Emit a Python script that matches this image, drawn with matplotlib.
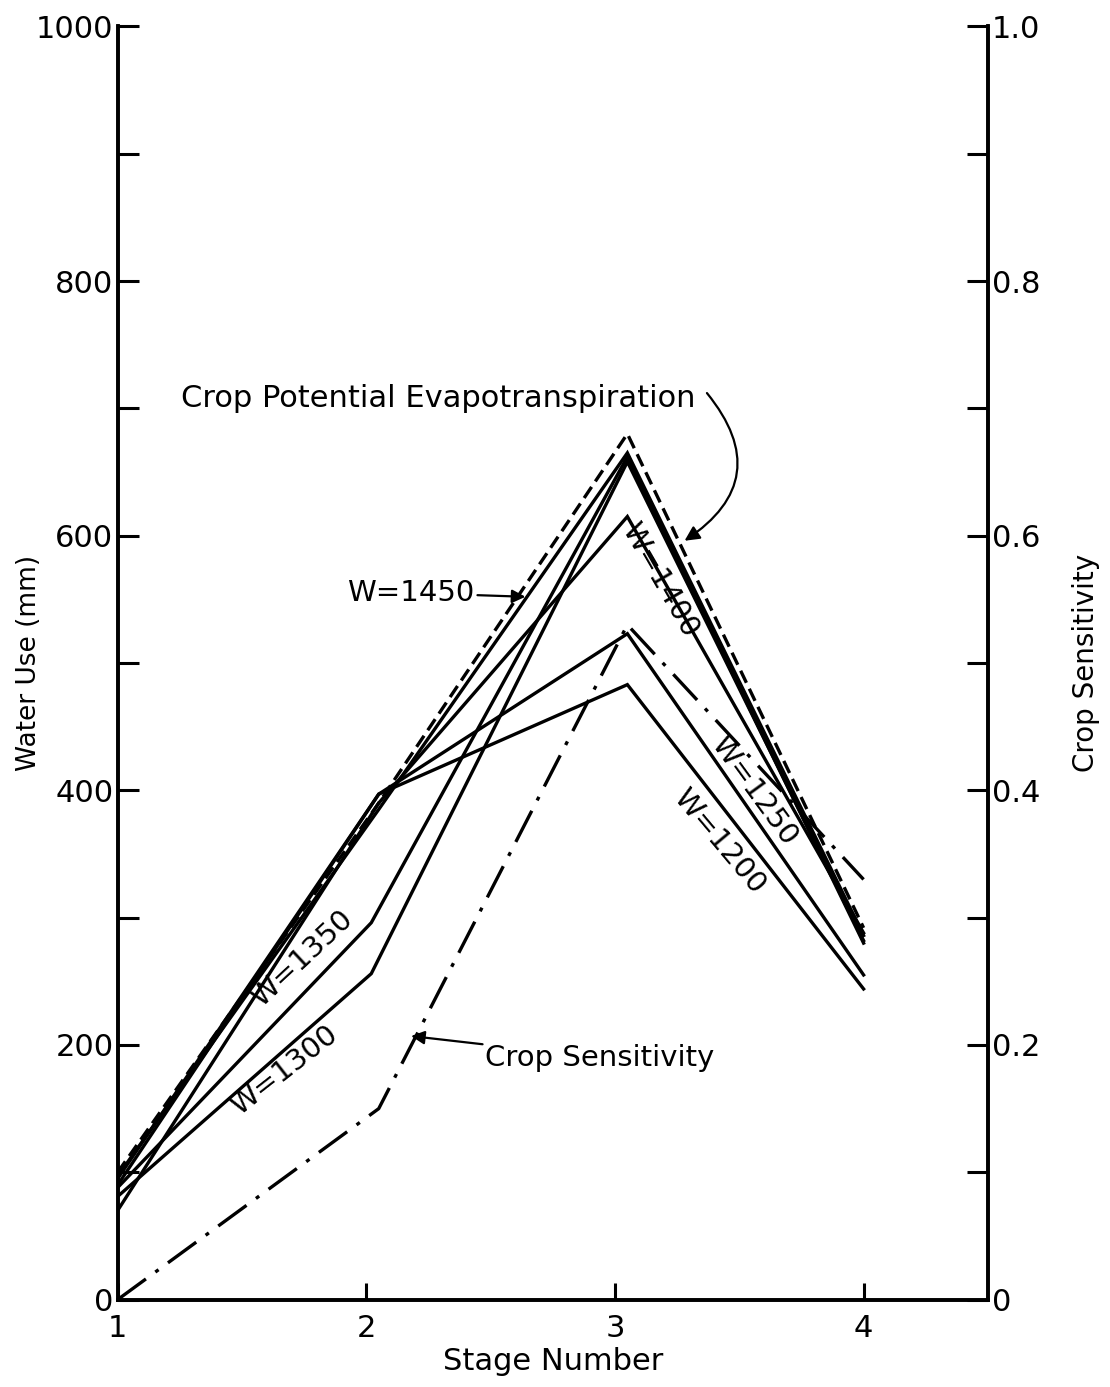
import matplotlib
matplotlib.use("Agg")
import matplotlib.pyplot as plt

# stage positions along the x axis
stages = [1.0, 2.05, 3.05, 4.0]
stages_low = [1.0, 2.02, 3.05, 4.0]

# water use (mm) per stage
et_potential = [100, 390, 680, 292]
w1450 = [97, 385, 665, 286]
w1400 = [70, 390, 615, 288]
w1350 = [88, 296, 662, 280]
w1300 = [81, 256, 658, 282]
w1250 = [95, 397, 523, 255]
w1200 = [90, 397, 483, 244]

# crop sensitivity per stage (right axis)
sensitivity = [0.0, 0.15, 0.53, 0.33]

plt.rcParams["font.family"] = ["DejaVu Sans"]

fig = plt.figure(figsize=(11.1, 13.87), dpi=100)
ax = fig.add_axes([0.106, 0.063, 0.784, 0.918])
ax2 = ax.twinx()

lw = 2.4
for series in [w1450, w1400, w1250, w1200]:
    ax.plot(stages, series, color="black", lw=lw, solid_joinstyle="miter")
for series in [w1350, w1300]:
    ax.plot(stages_low, series, color="black", lw=lw, solid_joinstyle="miter")
ax.plot(stages, et_potential, color="black", lw=lw, linestyle=(0, (4, 2)))
ax2.plot(stages, sensitivity, color="black", lw=lw, linestyle=(0, (10.5, 3.5, 1.2, 3.5)))

ax.set_xlim(1, 4.5)
ax.set_ylim(0, 1000)
ax2.set_ylim(0, 1.0)

ax.set_xticks([1, 2, 3, 4])
ax.set_yticks(range(0, 1001, 200))
ax.set_yticks(range(100, 1000, 200), minor=True)
ax2.set_yticks([0, 0.2, 0.4, 0.6, 0.8, 1.0])
ax2.set_yticklabels(["0", "0.2", "0.4", "0.6", "0.8", "1.0"])
ax2.set_yticks([0.1, 0.3, 0.5, 0.7, 0.9], minor=True)

for a in (ax, ax2):
    a.spines["top"].set_visible(False)
    for s in a.spines.values():
        s.set_linewidth(2.6)
    a.tick_params(which="both", direction="in", width=2.2, length=15, labelsize=22, pad=3)

ax.tick_params(axis="x", length=12, pad=10)
ax.set_xlabel("Stage Number", fontsize=22)
ax.set_ylabel("Water Use (mm)", fontsize=19)
ax2.set_ylabel("Crop Sensitivity", fontsize=20)
ax.xaxis.set_label_coords(0.5, -0.037)
ax.yaxis.set_label_coords(-0.087, 0.5)
ax2.yaxis.set_label_coords(1.097, 0.5)

# curve labels
ax.text(2.29, 708, "Crop Potential Evapotranspiration", fontsize=22,
        ha="center", va="center")
ax.annotate("", xy=(3.28, 596), xytext=(3.37, 712),
            arrowprops=dict(arrowstyle="-|>", color="black", lw=1.6,
                            connectionstyle="arc3,rad=-0.55", shrinkA=0, shrinkB=0,
                            mutation_scale=22))
ax.annotate("W=1450", xy=(2.64, 552), xytext=(2.18, 555), fontsize=21,
            ha="center", va="center",
            arrowprops=dict(arrowstyle="-|>", color="black", lw=1.6,
                            shrinkA=56, shrinkB=0, mutation_scale=20))
ax.annotate("Crop Sensitivity", xy=(2.18, 207), xytext=(2.94, 190), fontsize=21,
            ha="center", va="center",
            arrowprops=dict(arrowstyle="-|>", color="black", lw=1.6,
                            shrinkA=104, shrinkB=0, mutation_scale=20))

ax.text(3.18, 565, "W=1400", fontsize=21, rotation=-60, ha="center", va="center")
ax.text(3.56, 400, "W=1250", fontsize=21, rotation=-54, ha="center", va="center")
ax.text(3.42, 360, "W=1200", fontsize=21, rotation=-50, ha="center", va="center")
ax.text(1.74, 268, "W=1350", fontsize=21, rotation=43, ha="center", va="center")
ax.text(1.67, 180, "W=1300", fontsize=21, rotation=38, ha="center", va="center")

fig.savefig("out.png", dpi=100)
